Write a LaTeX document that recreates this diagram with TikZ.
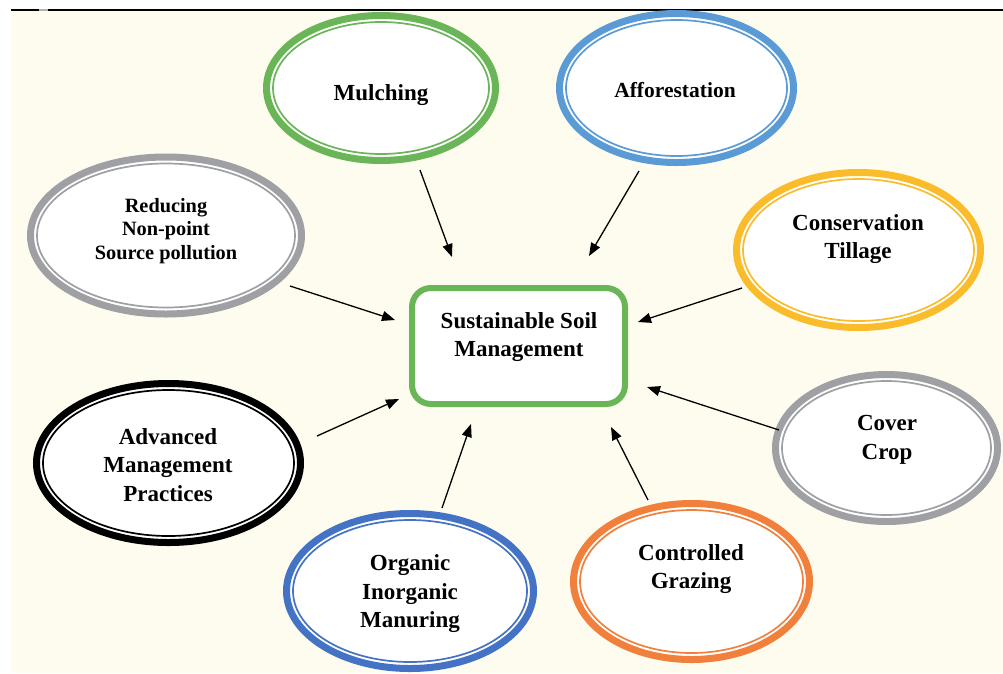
\documentclass[tikz,border=0pt]{standalone}
\usepackage{fontspec}
\setmainfont{Liberation Serif}
\usetikzlibrary{shapes.geometric,arrows.meta}

\definecolor{cream}{RGB}{254,252,238}
\definecolor{leafgreen}{RGB}{106,181,87}
\definecolor{skyblue}{RGB}{91,155,213}
\definecolor{goldring}{RGB}{251,188,44}
\definecolor{steelgray}{RGB}{158,160,164}
\definecolor{orangering}{RGB}{240,128,60}
\definecolor{deepblue}{RGB}{68,114,196}

\tikzset{
  ring/.style={ellipse, fill=white, line width=7pt, inner sep=0pt, outer sep=0pt},
  lbl/.style={font=\bfseries\fontsize{23}{28.5}\selectfont, align=center, inner sep=0pt},
  smalllbl/.style={font=\bfseries\fontsize{20.3}{23.5}\selectfont, align=center, inner sep=0pt},
  hub/.style={draw=leafgreen, line width=6pt, fill=white, rounded corners=19pt, inner sep=0pt},
  feed/.style={line width=1.3pt, -{Triangle[length=13pt,width=10pt]}}
}

% double-lined ellipse: name, x, y, outer x radius, outer y radius, colour
\newcommand\ringnode[6]{%
  \pgfmathsetmacro\ringw{2*#4-7}%
  \pgfmathsetmacro\ringh{2*#5-7}%
  \pgfmathsetmacro\innerx{#4-10}%
  \pgfmathsetmacro\innery{#5-10}%
  \node[ring, draw=#6, minimum width=\ringw pt, minimum height=\ringh pt] (#1) at (#2,#3) {};
  \draw[#6, line width=1.7pt] (#1.center) ellipse [x radius=\innerx pt, y radius=\innery pt];
}

\begin{document}
\begin{tikzpicture}[x=1pt,y=-1pt]
\useasboundingbox (0,0) rectangle (1003,673);
\fill[cream] (11,11) rectangle (1003,673);
\draw[line width=2pt] (11,10) -- (39,10);
\draw[line width=2pt, black!30] (39,10) -- (48,10);
\draw[line width=2pt] (48,10) -- (1003,10);

% surrounding practices
\ringnode{mulch}{381}{88}{118}{76}{leafgreen}
\ringnode{affor}{676.5}{88}{120.5}{78}{skyblue}
\ringnode{till}{858.5}{250}{125.5}{81}{goldring}
\ringnode{cover}{886.5}{448}{114.5}{77}{steelgray}
\ringnode{graze}{691.5}{581.5}{121.5}{81.5}{orangering}
\ringnode{manure}{410}{591}{127}{81}{deepblue}
\ringnode{adv}{168.5}{463}{135.5}{83}{black}
\ringnode{reduce}{166}{235.5}{139}{82}{steelgray}

\node[lbl] (mulch-t) at (381,95) {Mulching};
\node[lbl, font=\bfseries\fontsize{21.5}{26}\selectfont] (affor-t) at (675,90) {Afforestation};
\node[lbl] (till-t) at (858,239) {Conservation\\Tillage};
\node[lbl] (cover-t) at (887,440) {Cover\\Crop};
\node[lbl] (graze-t) at (691,569) {Controlled\\Grazing};
\node[lbl] (manure-t) at (410,594) {Organic\\Inorganic\\Manuring};
\node[lbl] (adv-t) at (168,465) {Advanced\\Management\\Practices};
\node[smalllbl] (reduce-t) at (166,231) {Reducing\\Non-point\\Source pollution};

% central box
\node[hub, minimum width=213pt, minimum height=116pt] (ssm) at (518.5,346) {};
\node[lbl] (ssm-t) at (519,337) {Sustainable Soil\\Management};

% arrow ends
\coordinate (mulch-a) at (420,170);  \coordinate (mulch-b) at (452,257);
\coordinate (affor-a) at (639,171);  \coordinate (affor-b) at (589,256);
\coordinate (till-a) at (742,288);   \coordinate (till-b) at (638,322);
\coordinate (cover-a) at (779,430);  \coordinate (cover-b) at (647,387);
\coordinate (graze-a) at (648,500);  \coordinate (graze-b) at (611,427);
\coordinate (manure-a) at (442,508); \coordinate (manure-b) at (471,424);
\coordinate (adv-a) at (317,436);    \coordinate (adv-b) at (399,399);
\coordinate (reduce-a) at (290,286); \coordinate (reduce-b) at (395,320);

\foreach \n in {mulch,affor,till,cover,graze,manure,adv,reduce}
  \draw[feed] (\n-a) -- (\n-b);
\end{tikzpicture}
\end{document}
